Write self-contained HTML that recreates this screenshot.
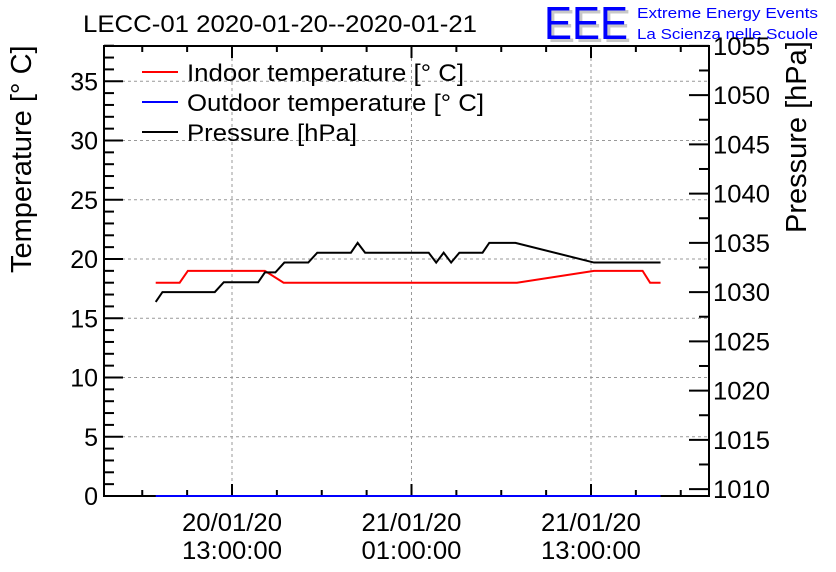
<!DOCTYPE html>
<html><head><meta charset="utf-8"><style>
html,body{margin:0;padding:0;background:#fff;}
svg{display:block;font-family:"Liberation Sans",sans-serif;}
</style></head><body>
<svg id="chart" width="836" height="572" viewBox="0 0 836 572">
<rect width="836" height="572" fill="#fff"/>
<text x="83" y="32" font-size="24" textLength="394" lengthAdjust="spacingAndGlyphs">LECC-01 2020-01-20--2020-01-21</text>
<g>
<text x="547" y="42" font-size="46" fill="#c8c8c8" textLength="84" lengthAdjust="spacingAndGlyphs">EEE</text>
<text x="544" y="39" font-size="46" fill="#0000ff" textLength="84" lengthAdjust="spacingAndGlyphs">EEE</text>
<text x="637" y="18" font-size="15" fill="#0000ff" textLength="181" lengthAdjust="spacingAndGlyphs">Extreme Energy Events</text>
<text x="637" y="39" font-size="15" fill="#0000ff" textLength="181" lengthAdjust="spacingAndGlyphs">La Scienza nelle Scuole</text>
</g>
<g id="grid"></g>
<g id="axes"></g>
<g id="series"></g>
<text transform="translate(31,273) rotate(-90)" font-size="29">Temperature [° C]</text>
<text transform="translate(806,233) rotate(-90)" font-size="29">Pressure [hPa]</text>
<g>
<g><line x1="142" y1="72" x2="178" y2="72" stroke="#ff0000" stroke-width="2"/><text x="187" y="81" font-size="24" textLength="277" lengthAdjust="spacingAndGlyphs">Indoor temperature [° C]</text></g>
<g><line x1="142" y1="102" x2="178" y2="102" stroke="#0000ff" stroke-width="2"/><text x="187" y="111" font-size="24" textLength="297" lengthAdjust="spacingAndGlyphs">Outdoor temperature [° C]</text></g>
<g><line x1="142" y1="132" x2="178" y2="132" stroke="#000" stroke-width="2"/><text x="187" y="141" font-size="24" textLength="170" lengthAdjust="spacingAndGlyphs">Pressure [hPa]</text></g>
</g>
</svg>
<script>
// hours relative to 2020-01-20 13:00
const indoorTimes = [-5.1,-3.5,-2.95,2.2,3.45,19.05,24.2,27.45,27.95,28.65];
const indoorTemps = [18,18,19,19,18,18,19,19,18,18];
const outdoorTimes = [-5.1,28.65];
const outdoorTemps = [0,0];
const pressureTimes = [-5.1,-4.65,-1.15,-0.55,1.75,2.2,2.9,3.5,5.1,5.7,7.95,8.4,8.9,13.15,13.65,14.15,14.65,15.2,16.75,17.2,18.95,24.2,28.65];
const pressureVals = [1029,1030,1030,1031,1031,1032,1032,1033,1033,1034,1034,1035,1034,1034,1033,1034,1033,1034,1034,1035,1035,1033,1033];
const tempTicks = [0,5,10,15,20,25,30,35];
const pressTicks = [1010,1015,1020,1025,1030,1035,1040,1045,1050,1055];
const timeTicks = [0,12,24];
const timeLabels = [["20/01/20","13:00:00"],["21/01/20","01:00:00"],["21/01/20","13:00:00"]];

const L=104,R=709,T=46,B=496;
const xs=t=>232+t*14.958;
const yT=v=>B-v*11.85;
const yP=p=>B-(p-1009.3)*9.85;
const NS="http://www.w3.org/2000/svg";
function mk(tag,attrs,parent){const e=document.createElementNS(NS,tag);for(const k in attrs)e.setAttribute(k,attrs[k]);parent.appendChild(e);return e;}
const grid=document.getElementById('grid'),axes=document.getElementById('axes'),series=document.getElementById('series');
tempTicks.forEach(v=>{if(v>0){const g=mk('line',{x1:L,x2:R,y1:yT(v),y2:yT(v),stroke:'#999','stroke-dasharray':'3,3','stroke-width':1},grid);

}});
timeTicks.forEach(t=>{const g=mk('line',{x1:xs(t),x2:xs(t),y1:T,y2:B,stroke:'#999','stroke-dasharray':'3,3','stroke-width':1},grid);

});
const frame=mk('rect',{x:L,y:T,width:R-L,height:B-T,fill:'none',stroke:'#000','stroke-width':2},axes);


for(let v=0;v<=38;v++){const major=v%5===0;mk('line',{x1:L,x2:L+(major?19:10),y1:yT(v),y2:yT(v),stroke:'#000','stroke-width':2},axes);}
tempTicks.forEach(v=>{const t=mk('text',{x:L-6,y:yT(v)+9,'font-size':25,'text-anchor':'end'},axes);t.textContent=v;

});
for(let p=1010;p<=1055;p+=2.5){const major=p%5===0;mk('line',{x1:R,x2:R-(major?20:10),y1:yP(p),y2:yP(p),stroke:'#000','stroke-width':2},axes);}
pressTicks.forEach(p=>{const t=mk('text',{x:R+4,y:yP(p)+9,'font-size':25,textLength:57,lengthAdjust:'spacingAndGlyphs'},axes);t.textContent=p;

});
for(let h=-6;h<=30;h+=3){const major=h%12===0;const x=xs(h);
mk('line',{x1:x,x2:x,y1:B,y2:B-(major?12:6),stroke:'#000','stroke-width':2},axes);
mk('line',{x1:x,x2:x,y1:T,y2:T+(major?12:6),stroke:'#000','stroke-width':2},axes);}
timeTicks.forEach((h,i)=>{[0,1].forEach(j=>{const t=mk('text',{x:xs(h),y:531+j*28,'font-size':25,'text-anchor':'middle',textLength:100,lengthAdjust:'spacingAndGlyphs'},axes);t.textContent=timeLabels[i][j];

});});
function line(ts,vs,yf,color,name){const pts=ts.map((t,i)=>xs(t)+','+yf(vs[i])).join(' ');
const p=mk('polyline',{points:pts,fill:'none',stroke:color,'stroke-width':2},series);

}
line(outdoorTimes,outdoorTemps,yT,'#0000ff','outdoor-temperature-line');
line(indoorTimes,indoorTemps,yT,'#ff0000','indoor-temperature-line');
line(pressureTimes,pressureVals,yP,'#000000','pressure-line');
</script>
</body></html>
